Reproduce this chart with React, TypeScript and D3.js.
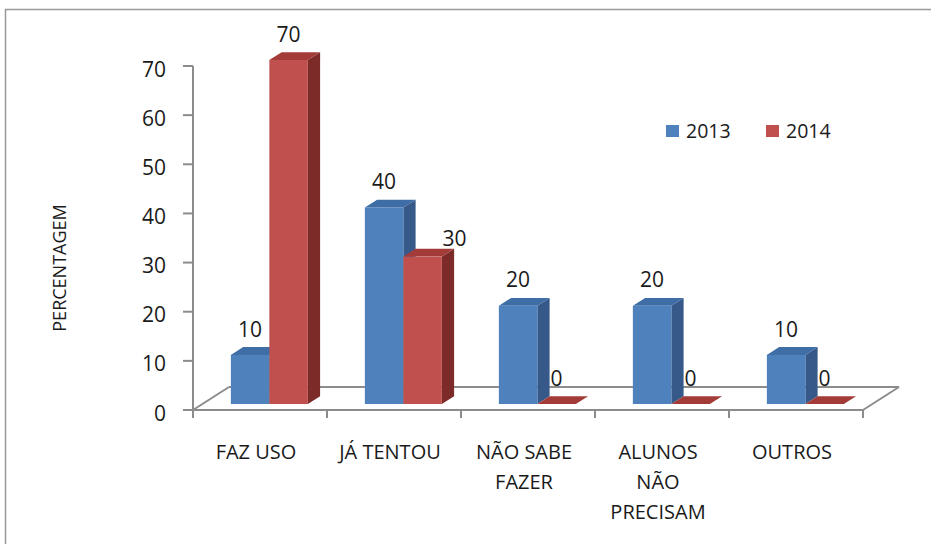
import React from "react";
import * as d3 from "d3";

const categories: string[][] = [
  ["FAZ USO"],
  ["JÁ TENTOU"],
  ["NÃO SABE", "FAZER"],
  ["ALUNOS", "NÃO", "PRECISAM"],
  ["OUTROS"],
];
const seriesNames = ["2013", "2014"];
const values2013 = [10, 40, 20, 20, 10];
const values2014 = [70, 30, 0, 0, 0];
const yTicks = [0, 10, 20, 30, 40, 50, 60, 70];

const FONT = "'Open Sans', Lato, sans-serif";
const W = 931;
const H = 544;

const colors = [
  { front: "#4F81BD", top: "#3F6DA6", side: "#36598A" },
  { front: "#C0504D", top: "#A33C39", side: "#7D2B29" },
];

// floor depth vector and bar placement within the depth
const floorD = { dx: 36, dy: -23 };
const barFrontT = 0.26;
const barDepthT = 0.34;

// label nudge (Excel moved this one aside)
const labelNudge: Record<string, [number, number]> = { "1-1": [32, 8] };

export default function App() {
  const x0 = d3.scaleBand<number>().domain(d3.range(categories.length)).range([193, 863]).paddingInner(0).paddingOuter(0);
  const groupW = 77;
  const x1 = d3.scaleBand<number>().domain([0, 1]).range([0, groupW]).padding(0);
  const y = d3.scaleLinear().domain([0, 70]).range([410, 66]);

  const series = [values2013, values2014];
  const fx = floorD.dx * barFrontT;
  const fy = floorD.dy * barFrontT;
  const bdx = floorD.dx * barDepthT;
  const bdy = floorD.dy * barDepthT;

  const left = x0.range()[0];
  const right = x0.range()[1];
  const base = y(0);
  const axisColor = "#8C8C8C";
  const textColor = "#1a1a1a";

  const bars: React.ReactNode[] = [];
  const labels: React.ReactNode[] = [];
  categories.forEach((_, ci) => {
    const gx = x0(ci)! + x0.bandwidth() / 2 - groupW / 2;
    [0, 1].forEach((si) => {
      const v = series[si][ci];
      const xl = gx + x1(si)! + fx;
      const xr = xl + x1.bandwidth();
      const yb = base + fy;
      const yt = yb - (base - y(v));
      const c = colors[si];
      bars.push(
        <g key={`b-${ci}-${si}`}>
          <path
            d={`M${xr},${yt} L${xr + bdx},${yt + bdy} L${xr + bdx},${yb + bdy} L${xr},${yb} Z`}
            fill={c.side}
          />
          <path
            d={`M${xl},${yt} L${xl + bdx},${yt + bdy} L${xr + bdx},${yt + bdy} L${xr},${yt} Z`}
            fill={c.top}
          />
          {v > 0 && <rect x={xl} y={yt} width={xr - xl} height={yb - yt} fill={c.front} />}
        </g>
      );
      const nudge = labelNudge[`${ci}-${si}`] || [0, 0];
      labels.push(
        <text
          key={`l-${ci}-${si}`}
          x={(xl + xr) / 2 + nudge[0]}
          y={yt + bdy - 10.5 + nudge[1]}
          textAnchor="middle"
          fontFamily={FONT}
          fontSize={21}
          fill={textColor}
        >
          {v}
        </text>
      );
    });
  });

  return (
    <svg width={W} height={H} style={{ position: "absolute", left: 0, top: 0, background: "#fff" }}>
      <rect x={0} y={0} width={W} height={H} fill="#fff" />
      {/* outer border */}
      <line x1={5} y1={9.5} x2={W} y2={9.5} stroke="#999" strokeWidth={1.5} />
      <line x1={5.5} y1={9} x2={5.5} y2={H} stroke="#999" strokeWidth={1.5} />

      {/* floor */}
      <g stroke={axisColor} strokeWidth={2} fill="none">
        <line x1={left} y1={base} x2={left + floorD.dx} y2={base + floorD.dy} />
        <line x1={left + floorD.dx} y1={base + floorD.dy} x2={right + floorD.dx} y2={base + floorD.dy} />
        <line x1={right} y1={base} x2={right + floorD.dx} y2={base + floorD.dy} />
        <line x1={left - 10} y1={base} x2={right} y2={base} />
        <line x1={left} y1={y(70)} x2={left} y2={base + 8} />
        {yTicks.map((t) => (
          <line key={t} x1={left - 10} y1={y(t)} x2={left} y2={y(t)} />
        ))}
        {d3.range(categories.length + 1).map((i) => {
          const xx = i < categories.length ? x0(i)! : right;
          return <line key={i} x1={xx} y1={base} x2={xx} y2={base + 8} />;
        })}
      </g>

      {/* y tick labels */}
      {yTicks.map((t) => (
        <text key={t} x={left - 27} y={y(t) + 10.5} textAnchor="end" fontFamily={FONT} fontSize={21} fill={textColor}>
          {t}
        </text>
      ))}

      {/* y axis title */}
      <text
        transform={`translate(66,268) rotate(-90)`}
        textAnchor="middle"
        fontFamily={FONT}
        fontSize={18}
        fill={textColor}
      >
        PERCENTAGEM
      </text>

      {/* bars */}
      {bars}
      {labels}

      {/* category labels */}
      {categories.map((lines, ci) => (
        <text key={ci} textAnchor="middle" fontFamily={FONT} fontSize={20} fill={textColor}>
          {lines.map((ln, li) => (
            <tspan key={li} x={x0(ci)! + x0.bandwidth() / 2 - 4} y={459 + li * 30}>
              {ln}
            </tspan>
          ))}
        </text>
      ))}

      {/* legend */}
      {seriesNames.map((s, i) => (
        <g key={s} transform={`translate(${666 + i * 100},124)`}>
          <rect x={0} y={1} width={13} height={12} fill={colors[i].front} />
          <text x={20} y={14} fontFamily={FONT} fontSize={19.5} fill={textColor}>
            {s}
          </text>
        </g>
      ))}
    </svg>
  );
}
